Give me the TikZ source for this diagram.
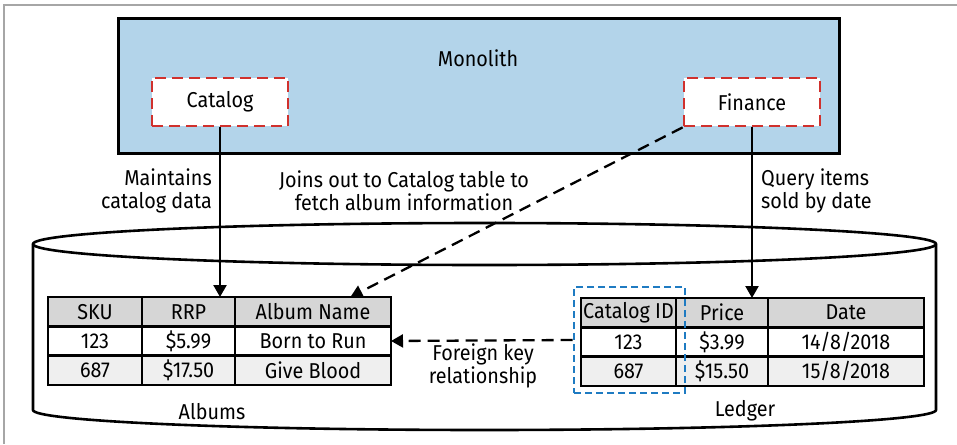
\documentclass[tikz,border=0pt]{standalone}
\usepackage{fontspec}
\setmainfont{Fira Sans}[FakeStretch=0.92]
\usetikzlibrary{arrows.meta,calc,positioning}
\definecolor{monoblue}{HTML}{B3D4EA}
\definecolor{dred}{HTML}{D0312D}
\definecolor{dblue}{HTML}{1F7BC2}
\definecolor{hdrgray}{HTML}{D6D6D6}
\definecolor{rowgray}{HTML}{EFEFEF}
\tikzset{
  txt/.style={font=\fontsize{21.5}{23}\selectfont, inner sep=0pt},
  svc/.style={draw=dred, fill=white, line width=2.8pt, dash pattern=on 11pt off 6pt,
    minimum width=136pt, minimum height=48pt, inner sep=0pt, font=\fontsize{21.5}{23}\selectfont},
  cell/.style={draw=black, line width=2.8pt, anchor=north west, inner sep=0pt, outer sep=0pt,
    minimum height=29.33pt, font=\fontsize{21.5}{23}\selectfont},
  hdr/.style={cell, fill=hdrgray},
  rw1/.style={cell, fill=white},
  rw2/.style={cell, fill=rowgray},
  arr/.style={line width=2.3pt, -{Triangle[width=13pt,length=12pt]}},
  darr/.style={arr, dash pattern=on 12pt off 7pt},
}
\begin{document}
\begin{tikzpicture}[x=1pt,y=-1pt]
\useasboundingbox (0,0) rectangle (957,444);
\fill[white] (0,0) rectangle (957,444);
% frame
\draw[gray!70, line width=1.2pt] (4,444) -- (4,5) -- (957,5);
% monolith
\node[draw=black, fill=monoblue, line width=3pt, minimum width=721pt, minimum height=134pt,
  inner sep=0pt] (mono) at (478.5,86) {};
\node[txt] (monot) at (478,58) {Monolith};
\node[svc] (cat) at (220,102) {Catalog};
\node[svc] (fin) at (752,102) {Finance};
% cylinder
\draw[line width=2.6pt, fill=white] (33,244) -- (33,410) arc[start angle=180, end angle=360, x radius=451.5pt, y radius=20pt] -- (936,244) arc[start angle=0, end angle=180, x radius=451.5pt, y radius=21pt] -- cycle;
\draw[line width=2.6pt] (33,244) arc[start angle=180, end angle=360, x radius=451.5pt, y radius=21pt];
% Albums table
\node[hdr, minimum width=94pt] (a11) at (48,297) {SKU};
\node[hdr, minimum width=93pt] (a12) at (a11.north east) {RRP};
\node[hdr, minimum width=156pt] (a13) at (a12.north east) {Album Name};
\node[rw1, minimum width=94pt] (a21) at (a11.south west) {123};
\node[rw1, minimum width=93pt] (a22) at (a21.north east) {\$5.99};
\node[rw1, minimum width=156pt] (a23) at (a22.north east) {Born to Run};
\node[rw2, minimum width=94pt] (a31) at (a21.south west) {687};
\node[rw2, minimum width=93pt] (a32) at (a31.north east) {\$17.50};
\node[rw2, minimum width=156pt] (a33) at (a32.north east) {Give Blood};
\node[txt] (albums) at (212,412) {Albums};
% Ledger table
\node[hdr, minimum width=95pt] (l11) at (581,298) {Catalog ID};
\node[hdr, minimum width=92pt] (l12) at (l11.north east) {Price};
\node[hdr, minimum width=156pt] (l13) at (l12.north east) {Date};
\node[rw1, minimum width=95pt] (l21) at (l11.south west) {123};
\node[rw1, minimum width=92pt] (l22) at (l21.north east) {\$3.99};
\node[rw1, minimum width=156pt] (l23) at (l22.north east) {14/8/2018};
\node[rw2, minimum width=95pt] (l31) at (l21.south west) {687};
\node[rw2, minimum width=92pt] (l32) at (l31.north east) {\$15.50};
\node[rw2, minimum width=156pt] (l33) at (l32.north east) {15/8/2018};
\node[txt] (ledger) at (745,411) {Ledger};
% foreign key highlight
\node[draw=dblue, line width=2.6pt, dash pattern=on 7pt off 4pt, minimum width=111pt,
  minimum height=106pt, inner sep=0pt] (fk) at (629.5,340) {};
% labels
\node[txt, align=right, anchor=east] (lm) at (212,191) {Maintains\\catalog data};
\node[txt, align=center] (lj) at (404,191) {Joins out to Catalog table to\\fetch album information};
\node[txt, align=left, anchor=west] (lq) at (761,191) {Query items\\sold by date};
\node[txt, align=center] (lf) at (483,366) {Foreign key\\relationship};
% connectors
\coordinate (catend) at (cat.south |- a12.north);
\coordinate (finend) at (fin.south |- l12.north);
\coordinate (joinend) at ($(a13.north west)!0.74!(a13.north east)$);
\draw[arr] (cat.south) -- (catend);
\draw[arr] (fin.south) -- (finend);
\draw[darr] (fin.south west) -- (joinend);
\draw[darr] (fk.west) -- (a23.east);
\end{tikzpicture}
\end{document}
